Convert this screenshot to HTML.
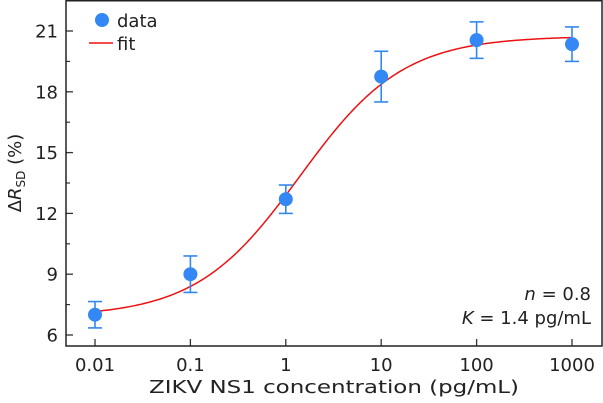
<!DOCTYPE html>
<html><head><meta charset="utf-8"><style>
html,body{margin:0;padding:0;background:#fff;}
svg{display:block;font-family:"DejaVu Sans","Liberation Sans",sans-serif;}
</style></head><body>
<svg id="chart" width="603" height="403" viewBox="0 0 603 403" xmlns="http://www.w3.org/2000/svg"></svg>
<script>
const categories = [0.01, 0.1, 1, 10, 100, 1000];
const xTickLabels = ["0.01", "0.1", "1", "10", "100", "1000"];
const meanValues = [7.0, 9.0, 12.7, 18.75, 20.55, 20.35];
const errorValues = [0.65, 0.9, 0.7, 1.25, 0.9, 0.85];
const yTicks = [6, 9, 12, 15, 18, 21];
const fitParams = [6.9, 20.75, 1.4, 0.8]; // A1, A2, K, n

const NS = "http://www.w3.org/2000/svg";
const svg = document.getElementById("chart");
const L = 66, R = 602, T = 0, B = 346;
function xs(v){ return 95 + (Math.log10(v) + 2) * 95.4; }
function ys(v){ return 335 - (v - 6) * (304 / 15); }
function mk(tag, attrs, parent){
  const e = document.createElementNS(NS, tag);
  for (const k in attrs) e.setAttribute(k, attrs[k]);
  (parent || svg).appendChild(e);
  return e;
}

yTicks.forEach((v, i) => {
  const t = mk("line", {x1:L, x2:L+7, y1:ys(v), y2:ys(v), stroke:"#333", "stroke-width":1.3});
  
  
  const m = mk("line", {x1:L, x2:L+4, y1:ys(v+1.5), y2:ys(v+1.5), stroke:"#333", "stroke-width":1.2});
  
  
  const lb = mk("text", {x:L-8, y:ys(v)+6.5, "text-anchor":"end", "font-size":18, fill:"#222"});
  lb.textContent = String(v);
  
  
});
categories.forEach((c, i) => {
  const t = mk("line", {x1:xs(c), x2:xs(c), y1:B, y2:B-7, stroke:"#333", "stroke-width":1.3});
  
  
  const lb = mk("text", {x:xs(c), y:B+25, "text-anchor":"middle", "font-size":18, fill:"#222"});
  lb.textContent = xTickLabels[i];
  
  
});

const [A1, A2, K, n] = fitParams;
let d = "";
for (let lx = -2; lx <= 3.0001; lx += 0.02) {
  const x = Math.pow(10, lx);
  const y = A1 + (A2 - A1) * Math.pow(x, n) / (Math.pow(K, n) + Math.pow(x, n));
  d += (d ? "L" : "M") + xs(x).toFixed(2) + "," + ys(y).toFixed(2);
}
const fit = mk("path", {d:d, fill:"none", stroke:"#ee1111", "stroke-width":1.5});



categories.forEach((c, i) => {
  const x = xs(c), y = ys(meanValues[i]), e = errorValues[i];
  const g = mk("g", {stroke:"#3388ee", "stroke-width":1.6});
  
  
  mk("line", {x1:x, x2:x, y1:ys(meanValues[i]+e), y2:ys(meanValues[i]-e)}, g);
  mk("line", {x1:x-7, x2:x+7, y1:ys(meanValues[i]+e), y2:ys(meanValues[i]+e)}, g);
  mk("line", {x1:x-7, x2:x+7, y1:ys(meanValues[i]-e), y2:ys(meanValues[i]-e)}, g);
  const p = mk("circle", {cx:x, cy:y, r:7, fill:"#3388f5"});
  
  
});

const fr = mk("rect", {x:L, y:T+0.75, width:R-L, height:B-T-0.75, fill:"none", stroke:"#222", "stroke-width":1.5});


</script>
<svg style="position:absolute;left:0;top:0" width="603" height="403" xmlns="http://www.w3.org/2000/svg">
  <g font-size="18" fill="#222">
    <circle cx="102" cy="20" r="7" fill="#3388f5"/>
    <text x="117" y="27">data</text>
    <line x1="89" x2="113" y1="43" y2="43" stroke="#ee1111" stroke-width="1.5"/>
    <text x="117" y="50">fit</text>
  </g>
  <text x="591" y="300" text-anchor="end" font-size="18" fill="#222"><tspan font-style="italic">n</tspan> = 0.8</text>
  <text x="591" y="324" text-anchor="end" font-size="18" fill="#222"><tspan font-style="italic">K</tspan> = 1.4 pg/mL</text>
  <text x="149" y="393" font-size="18" fill="#222" textLength="370" lengthAdjust="spacingAndGlyphs">ZIKV NS1 concentration (pg/mL)</text>
  <text transform="translate(21,173) rotate(-90)" text-anchor="middle" font-size="18" fill="#222">Δ<tspan font-style="italic">R</tspan><tspan font-size="12" dy="4">SD</tspan><tspan dy="-4"> (%)</tspan></text>
</svg>
</body></html>
